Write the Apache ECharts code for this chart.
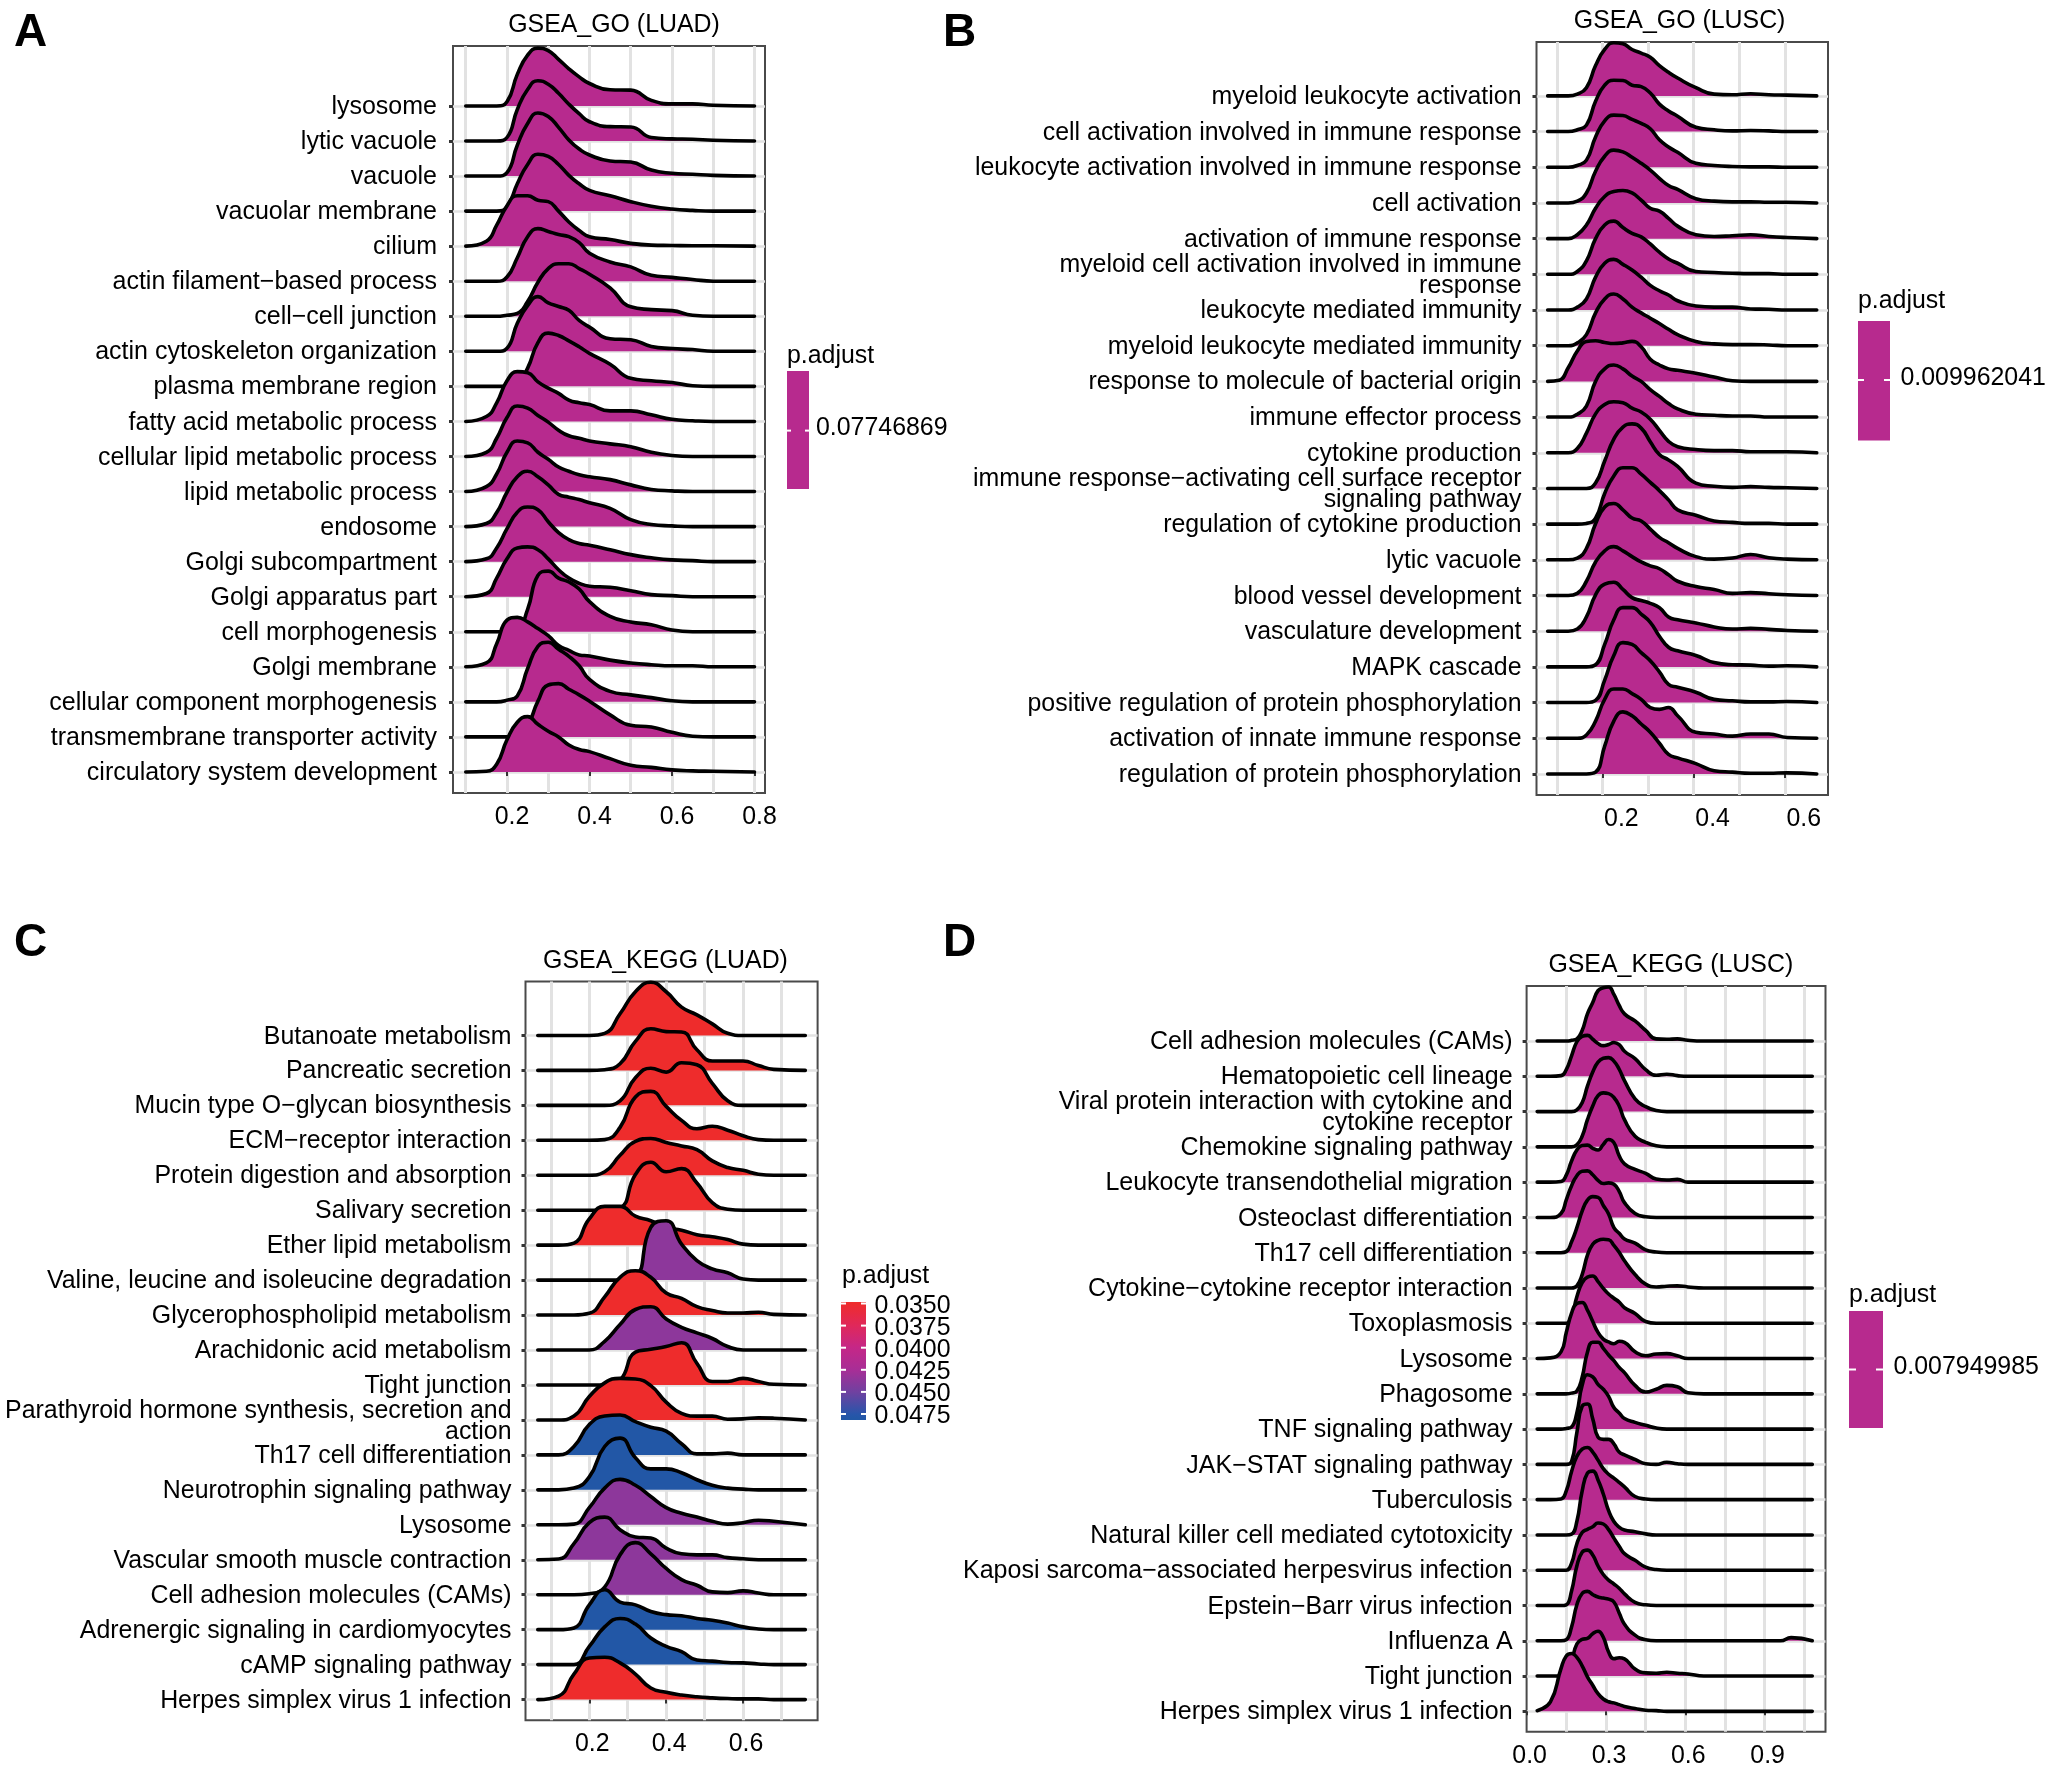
<!DOCTYPE html>
<html><head><meta charset="utf-8">
<script src="https://cdn.jsdelivr.net/npm/echarts@6/dist/echarts.min.js"></script>
<style>html,body{margin:0;padding:0;background:#fff}#c{width:2050px;height:1770px}</style>
</head><body><div id="c"></div>
<script>
// ---- Panel A: GSEA_GO (LUAD)
const goLuadNames = ['lysosome','lytic vacuole','vacuole','vacuolar membrane','cilium','actin filament−based process','cell−cell junction','actin cytoskeleton organization','plasma membrane region','fatty acid metabolic process','cellular lipid metabolic process','lipid metabolic process','endosome','Golgi subcompartment','Golgi apparatus part','cell morphogenesis','Golgi membrane','cellular component morphogenesis','transmembrane transporter activity','circulatory system development'];
const goLuadX = [.10,.15,.175,.2,.225,.25,.275,.3,.325,.35,.375,.4,.45,.5,.55,.6,.65,.7,.8];
const goLuadDensity = [
[0,0,0,.12,.9,1.45,1.65,1.58,1.33,1.06,.83,.64,.46,.45,.16,.06,.06,.02,0],
[0,0,0,.1,.9,1.47,1.72,1.62,1.36,1.05,.78,.55,.41,.4,.1,.06,.05,.02,0],
[0,0,0,.1,.88,1.5,1.8,1.7,1.39,1.03,.77,.6,.43,.4,.17,.08,.05,.02,0],
[0,0,0,.12,.78,1.33,1.62,1.56,1.33,1.02,.78,.59,.44,.27,.14,.06,.02,0,0],
[0,.14,.6,1.15,1.44,1.44,1.31,1.27,1,.69,.45,.27,.19,.08,.03,.02,.01,.01,0],
[0,0,0,.12,.67,1.27,1.5,1.42,1.33,1.27,1.1,.8,.55,.41,.17,.11,.05,0,0],
[0,0,0,.03,.08,.42,.97,1.36,1.5,1.5,1.36,1.2,.81,.27,.19,.16,.03,0,0],
[0,0,0,.09,.8,1.3,1.56,1.38,1.28,1.17,.88,.69,.36,.33,.14,.08,.05,0,0],
[0,0,0,0,.08,.52,1.25,1.52,1.45,1.3,1.13,.94,.63,.23,.16,.11,.02,0,0],
[0,.14,.53,1.16,1.42,1.39,1.13,.95,.8,.61,.53,.48,.3,.3,.19,.06,.02,0,0],
[0,.12,.52,1.11,1.44,1.38,1.17,.98,.75,.59,.52,.44,.36,.28,.12,.03,0,0,0],
[0,.14,.5,1.12,1.44,1.39,1.12,.92,.7,.58,.48,.42,.34,.19,.06,.02,0,0,0],
[0,.09,.4,.98,1.42,1.58,1.42,1.19,.92,.84,.77,.68,.52,.2,.06,.02,0,0,0],
[0,.08,.39,.94,1.41,1.56,1.48,1.14,.83,.63,.52,.47,.34,.2,.11,.05,.03,0,0],
[0,.09,.53,1.08,1.39,1.42,1.34,1.08,.77,.53,.38,.3,.27,.17,.06,.03,0,0,0],
[0,0,0,0,.05,.64,1.61,1.73,1.53,1.42,1.22,.86,.44,.28,.2,.05,0,0,0],
[0,.11,.66,1.33,1.41,1.28,1.09,.89,.61,.47,.34,.31,.19,.11,.06,.03,.03,0,0],
[0,0,0,.05,.17,.95,1.58,1.7,1.5,1.3,1.03,.64,.3,.2,.12,.03,0,0,0],
[0,0,0,0,0,.31,1.02,1.48,1.52,1.36,1.2,1.02,.63,.33,.28,.13,.02,0,0],
[0,.02,.22,.92,1.42,1.58,1.36,1.16,1,.77,.64,.58,.38,.19,.13,.06,.03,.02,0]];
const goLuadPAdjust = new Array(20).fill(0.0412);
// ---- Panel B: GSEA_GO (LUSC)
const goLuscNames = ['myeloid leukocyte activation','cell activation involved in immune response','leukocyte activation involved in immune response','cell activation','activation of immune response','myeloid cell activation involved in immune\nresponse','leukocyte mediated immunity','myeloid leukocyte mediated immunity','response to molecule of bacterial origin','immune effector process','cytokine production','immune response−activating cell surface receptor\nsignaling pathway','regulation of cytokine production','lytic vacuole','blood vessel development','vasculature development','MAPK cascade','positive regulation of protein phosphorylation','activation of innate immune response','regulation of protein phosphorylation'];
const goLuscX = [.08,.105,.125,.145,.165,.185,.205,.225,.245,.265,.285,.305,.325,.345,.365,.405,.445,.485,.525,.565,.605,.67];
const goLuscDensity = [
[0,0,0,.05,.23,.85,1.3,1.49,1.46,1.3,1.2,1.08,.85,.66,.5,.23,.05,.03,.06,.03,.02,0],
[0,0,0,.05,.18,.85,1.3,1.44,1.43,1.3,1.26,1.08,.77,.58,.43,.12,.05,.02,.03,.02,0,0],
[0,0,0,.05,.2,.85,1.3,1.46,1.45,1.34,1.23,1.08,.77,.57,.42,.11,.05,.02,.01,.01,0,0],
[0,0,0,.05,.28,.89,1.31,1.48,1.43,1.28,1.11,.92,.69,.49,.38,.12,.05,.03,.03,.02,.02,0],
[0,0,0,.11,.38,.85,1.18,1.32,1.35,1.28,1.08,.85,.77,.57,.35,.11,.06,.08,.11,.06,.03,0],
[0,0,0,.08,.38,1,1.38,1.49,1.31,1.15,1.05,.85,.62,.43,.31,.08,.05,.03,.02,.02,0,0],
[0,0,0,.08,.31,.92,1.31,1.42,1.28,1.12,.92,.69,.54,.42,.26,.11,.08,.08,.03,.02,0,0],
[0,0,0,.08,.31,.92,1.31,1.45,1.31,1.08,.92,.77,.62,.46,.31,.12,.05,.03,.03,.02,0,0],
[0,.03,.38,.85,1.12,1.14,1.09,1.06,1.08,1.12,.97,.62,.46,.35,.31,.23,.12,.02,0,0,0,0],
[0,0,0,.08,.31,1,1.35,1.46,1.35,1.15,1,.77,.58,.38,.23,.08,.05,.03,.03,0,0,0],
[0,0,0,.12,.55,1.09,1.35,1.43,1.4,1.25,1.14,.94,.63,.32,.17,.09,.06,.06,.03,.03,.03,0],
[0,0,0,0,0,.15,.77,1.38,1.72,1.81,1.69,1.31,.95,.8,.62,.15,.06,.03,.05,.03,.02,0],
[0,0,0,0,.02,.17,.86,1.35,1.58,1.58,1.4,1.17,.94,.68,.4,.25,.09,.05,.02,.02,0,0],
[0,0,0,.05,.32,1.01,1.48,1.58,1.4,1.17,1.09,.86,.63,.48,.32,.09,.02,.05,.15,.06,.02,0],
[0,0,0,.06,.4,.94,1.25,1.37,1.25,1.09,.94,.83,.75,.58,.4,.25,.17,.06,.08,.05,.02,0],
[0,0,0,.06,.4,1.02,1.32,1.37,1.17,.94,.86,.78,.66,.4,.32,.23,.12,.06,.08,.05,.02,0],
[0,0,0,0,0,.06,.63,1.32,1.66,1.66,1.48,1.25,.86,.55,.45,.32,.12,.06,.05,.02,.03,0],
[0,0,0,0,0,.06,.63,1.32,1.68,1.63,1.4,1.17,.86,.51,.43,.29,.09,.05,.02,.02,.03,0],
[0,0,0,0,.09,.48,1.09,1.38,1.38,1.25,1.09,.86,.81,.86,.63,.17,.12,.06,.12,.12,.02,0],
[0,0,0,0,0,.05,.78,1.48,1.74,1.63,1.4,1.17,.86,.55,.45,.29,.09,.05,.02,.02,.03,0]];
const goLuscPAdjust = new Array(20).fill(0.0412);
// ---- Panel C: GSEA_KEGG (LUAD)
const keggLuadNames = ['Butanoate metabolism','Pancreatic secretion','Mucin type O−glycan biosynthesis','ECM−receptor interaction','Protein digestion and absorption','Salivary secretion','Ether lipid metabolism','Valine, leucine and isoleucine degradation','Glycerophospholipid metabolism','Arachidonic acid metabolism','Tight junction','Parathyroid hormone synthesis, secretion and\naction','Th17 cell differentiation','Neurotrophin signaling pathway','Lysosome','Vascular smooth muscle contraction','Cell adhesion molecules (CAMs)','Adrenergic signaling in cardiomyocytes','cAMP signaling pathway','Herpes simplex virus 1 infection'];
const keggLuadX = [.066,.12,.16,.2,.24,.28,.32,.36,.4,.44,.48,.52,.56,.6,.64,.68,.762];
const keggLuadDensity = [
[0,0,0,0,.06,.62,1.25,1.52,1.25,.81,.59,.33,.06,0,0,0,0],
[0,0,0,0,.02,.19,.83,1.19,1.11,1.1,.59,.27,.27,.27,.14,.03,0],
[0,0,0,0,0,.13,.79,1.06,.95,1.22,1.16,.63,.13,0,0,0,0],
[0,0,0,0,.02,.37,1.24,1.4,.97,.57,.33,.4,.29,.13,.02,0,0],
[0,0,0,0,.1,.57,.97,1.05,.94,.84,.73,.41,.22,.14,.03,0,0],
[0,0,0,0,0,.06,1.02,1.37,1.1,1.19,.78,.22,.03,0,0,0,0],
[0,0,.06,.75,1.11,1.11,.83,.7,.51,.43,.3,.24,.16,.03,0,0,0],
[0,0,0,0,0,0,.08,1.51,1.7,1.03,.56,.32,.21,.03,0,0,0],
[0,0,0,.05,.52,1.08,1.27,1.08,.63,.48,.24,.13,.06,.06,.08,.02,0],
[0,0,0,0,.25,.73,1.16,1.24,.89,.65,.49,.33,.1,0,0,0,0],
[0,0,0,0,0,.14,.94,1.02,1.1,1.21,.62,.1,.1,.19,.1,.02,0],
[0,0,.11,.67,1.06,1.19,1.17,.98,.51,.19,.11,.11,.02,.03,.06,.05,0],
[0,0,.24,.87,1.11,1.14,.95,.79,.68,.32,.03,.03,.05,0,0,0,0],
[0,0,.05,.37,1.24,1.48,.92,.6,.6,.49,.29,.13,.05,.02,0,0,0],
[0,0,.02,.49,1.05,1.3,1.13,.81,.49,.33,.22,.1,.02,.06,.13,.1,0],
[0,.02,.46,1.06,1.22,.86,.65,.62,.33,.17,.14,.14,.06,.03,0,0,0],
[0,0,0,.03,.22,1.14,1.49,1.17,.75,.43,.27,.08,.06,.11,.05,0,0],
[0,0,.05,.71,1.14,.79,.71,.52,.43,.4,.32,.27,.19,.08,.02,0,0],
[0,0,0,.52,1.08,1.32,1.16,.76,.52,.37,.13,.1,.06,.05,.02,0,0],
[0,.1,.73,1.19,1.21,1.05,.73,.33,.21,.13,.08,.05,.03,.02,.02,0,0]];
const keggLuadPAdjust = [.035,.035,.035,.035,.035,.035,.035,.0437,.035,.0437,.035,.035,.048,.048,.0437,.0437,.0437,.048,.048,.035];
const keggLuadTicks = ['0.0350','0.0375','0.0400','0.0425','0.0450','0.0475'];
// ---- Panel D: GSEA_KEGG (LUSC)
const keggLuscNames = ['Cell adhesion molecules (CAMs)','Hematopoietic cell lineage','Viral protein interaction with cytokine and\ncytokine receptor','Chemokine signaling pathway','Leukocyte transendothelial migration','Osteoclast differentiation','Th17 cell differentiation','Cytokine−cytokine receptor interaction','Toxoplasmosis','Lysosome','Phagosome','TNF signaling pathway','JAK−STAT signaling pathway','Tuberculosis','Natural killer cell mediated cytotoxicity','Kaposi sarcoma−associated herpesvirus infection','Epstein−Barr virus infection','Influenza A','Tight junction','Herpes simplex virus 1 infection'];
const keggLuscX = [.04,.09,.13,.15,.17,.19,.21,.23,.25,.27,.29,.31,.33,.35,.37,.41,.45,.49,.53,.57,.61,.67,.96,1.0,1.08];
const keggLuscDensity = [
[0,0,0,0,.02,.06,.3,.77,1.09,1.43,1.51,1.53,1.32,1.01,.77,.57,.3,.06,.05,.06,.02,0,0,0,0],
[0,0,.02,.19,.58,.98,1.13,1.16,1.05,.93,.87,.9,.96,.9,.71,.5,.19,.03,.06,.02,0,0,0,0,0],
[0,0,0,0,0,.05,.25,.72,1.12,1.4,1.51,1.53,1.43,1.2,.88,.36,.14,.03,0,0,0,0,0,0,0],
[0,0,0,0,0,.06,.3,.77,1.16,1.45,1.53,1.51,1.4,1.16,.77,.3,.13,.03,0,0,0,0,0,0,0],
[0,0,.02,.2,.6,.91,1.04,1.05,.96,.91,1.07,1.21,1.12,.75,.52,.36,.25,.09,.06,.08,0,0,0,0,0],
[0,0,.11,.5,.9,1.18,1.31,1.32,1.21,1.05,.96,.98,.94,.74,.42,.11,.02,0,0,0,0,0,0,0,0],
[0,0,0,.03,.31,.71,1.18,1.49,1.59,1.57,1.34,1.1,.71,.55,.39,.27,.08,.02,0,0,0,0,0,0,0],
[0,0,0,0,0,.06,.38,.93,1.24,1.35,1.38,1.37,1.21,1.01,.77,.38,.11,.03,.05,.06,.03,0,0,0,0],
[0,0,0,0,.2,.75,1.15,1.31,1.34,1.18,.99,.83,.71,.6,.44,.28,.05,0,0,0,0,0,0,0,0],
[0,.02,.19,.74,1.29,1.56,1.59,1.37,1.05,.74,.55,.47,.42,.49,.46,.19,.08,.13,.14,.08,0,0,0,0,0],
[0,0,0,0,.02,.08,.47,1.18,1.46,1.46,1.29,1.1,.94,.75,.6,.24,.05,.13,.24,.2,.03,0,0,0,0],
[0,0,0,.02,.06,.46,1.24,1.54,1.48,1.27,1.13,.93,.61,.46,.3,.19,.11,.03,0,0,0,0,0,0,0],
[0,0,0,0,.08,.9,1.65,1.71,1.29,.77,.71,.71,.58,.35,.27,.14,.02,0,.06,.02,0,0,0,0,0],
[0,0,.02,.25,.8,1.23,1.43,1.48,1.35,1.12,.88,.72,.61,.49,.36,.09,.02,0,0,0,0,0,0,0,0],
[0,0,0,0,.02,.38,1.24,1.75,1.81,1.56,1.16,.69,.38,.22,.14,.09,.03,0,0,0,0,0,0,0,0],
[0,0,0,0,.2,.75,1.07,1.16,1.23,1.34,1.31,1.15,.91,.68,.47,.28,.09,.02,0,0,0,0,0,0,0],
[0,0,0,.02,.41,1.12,1.51,1.57,1.43,1.12,.88,.72,.61,.49,.33,.09,.02,0,0,0,0,0,0,0,0],
[0,0,0,.03,.39,1.02,1.34,1.4,1.31,1.24,1.21,1.18,1.1,.79,.47,.16,.03,0,0,0,0,0,0,.09,0],
[0,0,0,.13,.44,.91,1.04,1.07,1.2,1.27,1.1,.68,.49,.52,.49,.2,.09,.08,.11,.08,.06,0,0,0,0],
[.02,.27,1.21,1.57,1.64,1.53,1.29,.98,.74,.5,.35,.27,.24,.19,.14,.08,.03,.02,0,0,0,0,0,0,0]];
const keggLuscPAdjust = new Array(20).fill(0.0412);

const FONT = '"Liberation Sans", Arial, sans-serif';
const TICK_FS = 24.9;
const colorStops = [[.035,[238,44,44]],[.0375,[224,40,90]],[.04,[197,39,135]],[.0425,[168,46,150]],[.045,[112,65,160]],[.0475,[40,85,170]],[.048,[34,87,166]]];
function pColor(p){
  for(let i=1;i<colorStops.length;i++){
    if(p<=colorStops[i][0]){
      const a=colorStops[i-1],b=colorStops[i],t=Math.max(0,(p-a[0])/(b[0]-a[0]));
      return 'rgb('+a[1].map((v,k)=>Math.round(v+(b[1][k]-v)*t)).join(',')+')';
    }
  }
  return 'rgb('+colorStops[colorStops.length-1][1].join(',')+')';
}
const panels = [
 {names:goLuadNames,xs:goLuadX,d:goLuadDensity,p:goLuadPAdjust,left:453,right:765,top:46,bottom:793,xmin:.0691,xmax:.8255,ymin:-.6,ymax:20.71,
  major:[.2,.4,.6,.8],grid:[.1,.2,.3,.4,.5,.6,.7,.8],labelShift:10,fs:25,labelGap:16},
 {names:goLuscNames,xs:goLuscX,d:goLuscDensity,p:goLuscPAdjust,left:1536.5,right:1828,top:42,bottom:795,xmin:.0555,xmax:.6947,ymin:-.59,ymax:20.51,
  major:[.2,.4,.6],grid:[.1,.2,.3,.4,.5,.6],labelShift:38,fs:24.9,labelGap:15},
 {names:keggLuadNames,xs:keggLuadX,d:keggLuadDensity,p:keggLuadPAdjust,left:525.5,right:817.6,top:981.6,bottom:1720.2,xmin:.034,xmax:.794,ymin:-.59,ymax:20.54,
  major:[.2,.4,.6],grid:[.1,.2,.3,.4,.5,.6,.7],labelShift:6,fs:24.9,labelGap:14},
 {names:keggLuscNames,xs:keggLuscX,d:keggLuscDensity,p:keggLuscPAdjust,left:1526.6,right:1825.5,top:986,bottom:1731.8,xmin:0,xmax:1.13,ymin:-.58,ymax:20.56,
  major:[0,.3,.6,.9],grid:[.15,.3,.45,.6,.75,.9,1.05],labelShift:6,fs:25,labelGap:14}
];
const rowTicks = Array.from({length:20},(_, i)=>i);
const rowLabelAt = rowTicks.map(v=>v-.035);
const grids=[],xAxes=[],yAxes=[],series=[];
panels.forEach((P,k)=>{
  grids.push({left:P.left,top:P.top,width:P.right-P.left,height:P.bottom-P.top,show:true,backgroundColor:'#fff',borderColor:'#4a4a4a',borderWidth:2,containLabel:false});
  xAxes.push({gridIndex:k,type:'value',min:P.xmin,max:P.xmax,
    axisLine:{show:false},splitLine:{show:false},
    axisTick:{show:true,length:4,customValues:P.major,lineStyle:{color:'#333',width:2}},
    axisLabel:{customValues:P.major,fontFamily:FONT,fontSize:TICK_FS,color:'#000',margin:11.5,padding:[0,0,0,P.labelShift],formatter:v=>Number(v).toFixed(1)}});
  xAxes.push({gridIndex:k,type:'value',min:P.xmin,max:P.xmax,
    axisLine:{show:false},axisLabel:{show:false},
    axisTick:{show:false,customValues:P.grid},
    splitLine:{show:true,lineStyle:{color:'#e2e2e2',width:3}}});
  yAxes.push({gridIndex:k,type:'value',min:P.ymin,max:P.ymax,
    axisLine:{show:false},
    axisTick:{show:true,length:4,customValues:rowTicks,lineStyle:{color:'#333',width:3}},
    splitLine:{show:true,lineStyle:{color:'#e2e2e2',width:2.5}},
    axisLabel:{customValues:rowLabelAt,fontFamily:FONT,fontSize:P.fs,color:'#000',margin:P.labelGap,lineHeight:21,align:'right',
      formatter:v=>P.names[19-Math.round(v)]}});
  P.names.forEach((name,i)=>{
    const base=19-i;
    series.push({type:'line',name:name.replace('\n',' '),xAxisIndex:2*k,yAxisIndex:k,z:3+i,silent:true,
      showSymbol:false,symbol:'none',smooth:.5,animation:false,
      data:P.xs.map((x,j)=>[x,base+P.d[i][j]]),
      lineStyle:{color:'#000',width:3.6,cap:'round',join:'round'},
      areaStyle:{color:pColor(P.p[i]),opacity:1,origin:base}});
  });
});
const black='#000';
function txt(text,x,y,opt){return Object.assign({type:'text',x:x,y:y,silent:true,z:100,style:Object.assign({text:text,fontFamily:FONT,fontSize:TICK_FS,fill:black,textAlign:'left',textVerticalAlign:'middle'},opt||{})});}
function bar(x,y,w,h,fill){return {type:'rect',silent:true,z:100,shape:{x:x,y:y,width:w,height:h},style:{fill:fill}};}
function whiteTicks(x,w,y){const t=Math.round(w/5);return [bar(x,y-1,t,2,'#fff'),bar(x+w-t,y-1,t,2,'#fff')];}
const gfx=[];
[['A',14,33],['B',943,33],['C',14,943],['D',943,943]].forEach(a=>gfx.push(txt(a[0],a[1],a[2],{fontSize:46,fontWeight:'bold'})));
[['GSEA_GO (LUAD)',614,25],['GSEA_GO (LUSC)',1679.6,21],['GSEA_KEGG (LUAD)',665.5,961.5],['GSEA_KEGG (LUSC)',1670.8,965.5]].forEach(a=>gfx.push(txt(a[0],a[1],a[2],{textAlign:'center'})));
[[787,356.5,787,371,22,118,816,428.5,430.6,'0.07746869'],[1858,301.5,1858,321,32,119.5,1900.5,378.5,380,'0.009962041'],[1849,1295.5,1849,1311,34,117,1893.5,1367.5,1369.5,'0.007949985']].forEach(l=>{
  gfx.push(txt('p.adjust',l[0],l[1]));
  gfx.push(bar(l[2],l[3],l[4],l[5],pColor(.0412)));
  whiteTicks(l[2],l[4],l[8]).forEach(t=>gfx.push(t));
  gfx.push(txt(l[9],l[6],l[7]));
});
gfx.push(txt('p.adjust',842,1276));
gfx.push({type:'rect',silent:true,z:100,shape:{x:841,y:1302,width:25,height:118},style:{fill:new echarts.graphic.LinearGradient(0,0,0,1,colorStops.map(s=>({offset:Math.min(1,(s[0]-.035)/.0125*.94+.01),color:'rgb('+s[1].join(',')+')'})))}});
keggLuadTicks.forEach((t,i)=>{const y=1303.5+i*22.1;whiteTicks(841,25,y).forEach(b=>gfx.push(b));gfx.push(txt(t,874.4,y+2.5));});

const chart=echarts.init(document.getElementById('c'),null,{renderer:'canvas',width:2050,height:1770});
chart.setOption({backgroundColor:'#fff',animation:false,grid:grids,xAxis:xAxes,yAxis:yAxes,series:series,graphic:{elements:gfx}});
</script></body></html>
